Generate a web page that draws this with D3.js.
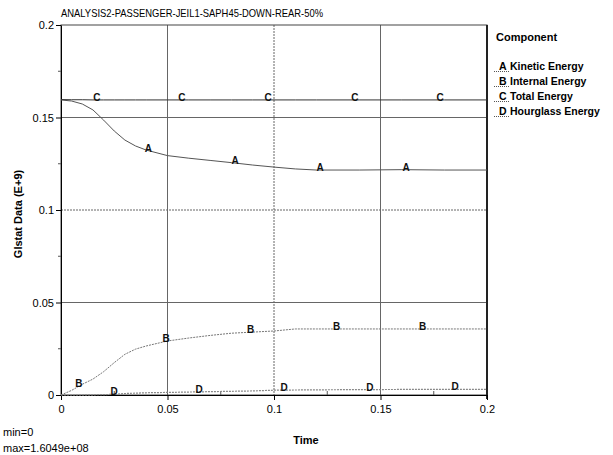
<!DOCTYPE html>
<html>
<head>
<meta charset="utf-8">
<script src="https://cdn.jsdelivr.net/npm/d3@7"></script>
<style>
  html, body { margin: 0; padding: 0; background: #fff; }
  svg { display: block; font-family: "Liberation Sans", Arial, sans-serif; }
</style>
</head>
<body>
<svg id="chart" width="613" height="455"></svg>
<script>
// ---- data ----
const title = "ANALYSIS2-PASSENGER-JEIL1-SAPH45-DOWN-REAR-50%";
const time = [0, 0.005, 0.01, 0.015, 0.02, 0.025, 0.03, 0.035, 0.04, 0.05, 0.06, 0.07, 0.08, 0.09, 0.1, 0.11, 0.12, 0.14, 0.16, 0.18, 0.2];
const kinetic   = [0.1595, 0.1589, 0.1573, 0.1541, 0.1486, 0.1427, 0.1378, 0.1346, 0.1324, 0.1294, 0.1280, 0.1268, 0.1256, 0.1243, 0.1232, 0.1222, 0.1216, 0.1216, 0.1218, 0.1216, 0.1216];
const internal  = [0, 0.0025, 0.0058, 0.0086, 0.0126, 0.0175, 0.0220, 0.0248, 0.0265, 0.0292, 0.0308, 0.0322, 0.0334, 0.0340, 0.0346, 0.0357, 0.0357, 0.0357, 0.0357, 0.0357, 0.0357];
const total     = [0.1597, 0.1596, 0.1596, 0.1595, 0.1595, 0.1595, 0.1595, 0.1595, 0.1595, 0.1595, 0.1595, 0.1595, 0.1595, 0.1595, 0.1595, 0.1595, 0.1595, 0.1595, 0.1595, 0.1595, 0.1595];
const hourglass = [0, 0, 0, 0.0001, 0.0002, 0.0004, 0.0008, 0.0010, 0.0012, 0.0014, 0.0016, 0.0018, 0.0020, 0.0022, 0.0026, 0.0027, 0.0028, 0.0029, 0.0030, 0.0030, 0.0030];
const seriesLetters = ["A", "B", "C", "D"];
const seriesNames = ["Kinetic Energy", "Internal Energy", "Total Energy", "Hourglass Energy"];
const labelTimesA = [0.041, 0.0817, 0.1216, 0.162];
const labelTimesB = [0.0084, 0.0493, 0.089, 0.1294, 0.1698];
const labelTimesC = [0.0168, 0.0567, 0.0972, 0.138, 0.178];
const labelTimesD = [0.0249, 0.0648, 0.1047, 0.145, 0.185];
const xTicks = [0, 0.05, 0.1, 0.15, 0.2];
const yTicks = [0, 0.05, 0.1, 0.15, 0.2];
const xTickLabels = ["0", "0.05", "0.1", "0.15", "0.2"];
const yTickLabels = ["0", "0.05", "0.1", "0.15", "0.2"];
const minorTicks = [0.025, 0.075, 0.125, 0.175];
const minText = "min=0";
const maxText = "max=1.6049e+08";

// ---- layout ----
const svg = d3.select("#chart");
const pLeft = 61, pRight = 487, pTop = 25, pBottom = 395;
const x = d3.scaleLinear().domain([0, 0.2]).range([pLeft, pRight]);
const y = d3.scaleLinear().domain([0, 0.2]).range([pBottom, pTop]);

// grid
const g = svg.append("g");
g.selectAll(".vg").data(xTicks.slice(1, -1)).enter().append("line")
  .attr("x1", d => x(d)).attr("x2", d => x(d)).attr("y1", pTop).attr("y2", pBottom)
  .attr("stroke", "#666").attr("stroke-width", 1)
  .attr("stroke-dasharray", d => d === 0.1 ? "2,1" : null);
g.selectAll(".hg").data(yTicks.slice(1, -1)).enter().append("line")
  .attr("y1", d => y(d)).attr("y2", d => y(d)).attr("x1", pLeft).attr("x2", pRight)
  .attr("stroke", "#666").attr("stroke-width", 1)
  .attr("stroke-dasharray", d => d === 0.1 ? "2,1" : null);

// frame
svg.append("rect").attr("x", pLeft).attr("y", pTop).attr("width", pRight - pLeft).attr("height", pBottom - pTop)
  .attr("fill", "none").attr("stroke", "#444").attr("stroke-width", 1);
svg.append("line").attr("x1", pRight).attr("x2", pRight).attr("y1", pTop).attr("y2", pBottom + 4)
  .attr("stroke", "#222").attr("stroke-width", 2);

// axes
const xAxis = d3.axisBottom(x).tickValues(xTicks).tickFormat((d, i) => xTickLabels[i]).tickSize(5).tickSizeOuter(0);
const yAxis = d3.axisLeft(y).tickValues(yTicks).tickFormat((d, i) => yTickLabels[i]).tickSize(5).tickSizeOuter(0);
const gx = svg.append("g").attr("transform", `translate(0,${pBottom})`).call(xAxis);
const gy = svg.append("g").attr("transform", `translate(${pLeft},0)`).call(yAxis);
[gx, gy].forEach(a => {
  a.select(".domain").attr("stroke", "#000");
  a.selectAll(".tick line").attr("stroke", "#000");
  a.selectAll(".tick text").attr("fill", "#000").attr("font-size", 11)
    .attr("font-family", "'Liberation Sans', Arial, sans-serif");
});
gx.selectAll(".tick text").attr("dy", "0.95em");
gy.selectAll(".tick text").attr("x", -7);
// minor ticks
svg.selectAll(".mx").data(minorTicks).enter().append("line")
  .attr("x1", d => x(d)).attr("x2", d => x(d)).attr("y1", pBottom).attr("y2", pBottom - 4)
  .attr("stroke", "#555");
svg.selectAll(".my").data(minorTicks).enter().append("line")
  .attr("y1", d => y(d)).attr("y2", d => y(d)).attr("x1", pLeft).attr("x2", pLeft - 3)
  .attr("stroke", "#555");

// series
const lineGen = vals => d3.line().x((d, i) => x(time[i])).y(d => y(d))(vals);
const series = [
  {vals: kinetic, color: "#555", dash: null, w: 1, labels: labelTimesA},
  {vals: internal, color: "#777", dash: "2,1", w: 1, labels: labelTimesB},
  {vals: total, color: "#333", dash: null, w: 1, labels: labelTimesC},
  {vals: hourglass, color: "#888", dash: "2,1", w: 1.2, labels: labelTimesD}
];
series.forEach((s, si) => {
  svg.append("path").attr("d", lineGen(s.vals)).attr("fill", "none")
    .attr("stroke", s.color).attr("stroke-width", s.w).attr("stroke-dasharray", s.dash);
  const interp = d3.scaleLinear().domain(time).range(s.vals);
  svg.selectAll(null).data(s.labels).enter().append("text")
    .attr("x", d => x(d)).attr("y", d => y(interp(d)) + 1)
    .attr("text-anchor", "middle").attr("font-size", 10).attr("font-weight", "bold")
    .attr("fill", "#111").text(seriesLetters[si]);
});

// title
svg.append("text").attr("x", 61).attr("y", 17).attr("font-size", 11.5)
  .attr("textLength", 262).attr("lengthAdjust", "spacingAndGlyphs")
  .attr("fill", "#000").text(title);

// axis titles
svg.append("text").attr("transform", "translate(22,214) rotate(-90)")
  .attr("text-anchor", "middle").attr("font-size", 11).attr("font-weight", "bold")
  .attr("fill", "#000").text("Glstat Data (E+9)");
svg.append("text").attr("x", 306).attr("y", 444).attr("text-anchor", "middle")
  .attr("font-size", 11).attr("font-weight", "bold").attr("fill", "#000").text("Time");
svg.append("text").attr("x", 3).attr("y", 436).attr("font-size", 11).attr("fill", "#000").text(minText);
svg.append("text").attr("x", 3).attr("y", 452).attr("font-size", 11).attr("fill", "#000").text(maxText);

// legend
svg.append("text").attr("x", 496).attr("y", 41).attr("font-size", 11).attr("font-weight", "bold")
  .attr("fill", "#000").text("Component");
const legY = [70, 85, 100, 115];
seriesLetters.forEach((L, i) => {
  svg.append("line").attr("x1", 494).attr("x2", 509).attr("y1", legY[i] + 1.5).attr("y2", legY[i] + 1.5)
    .attr("stroke", "#555").attr("stroke-dasharray", "1,1");
  svg.append("text").attr("x", 499).attr("y", legY[i]).attr("font-size", 10.5).attr("font-weight", "bold")
    .attr("fill", "#000").text(L);
  svg.append("text").attr("x", 510).attr("y", legY[i]).attr("font-size", 10.5).attr("font-weight", "bold")
    .attr("fill", "#000").text(seriesNames[i]);
});
</script>
</body>
</html>
